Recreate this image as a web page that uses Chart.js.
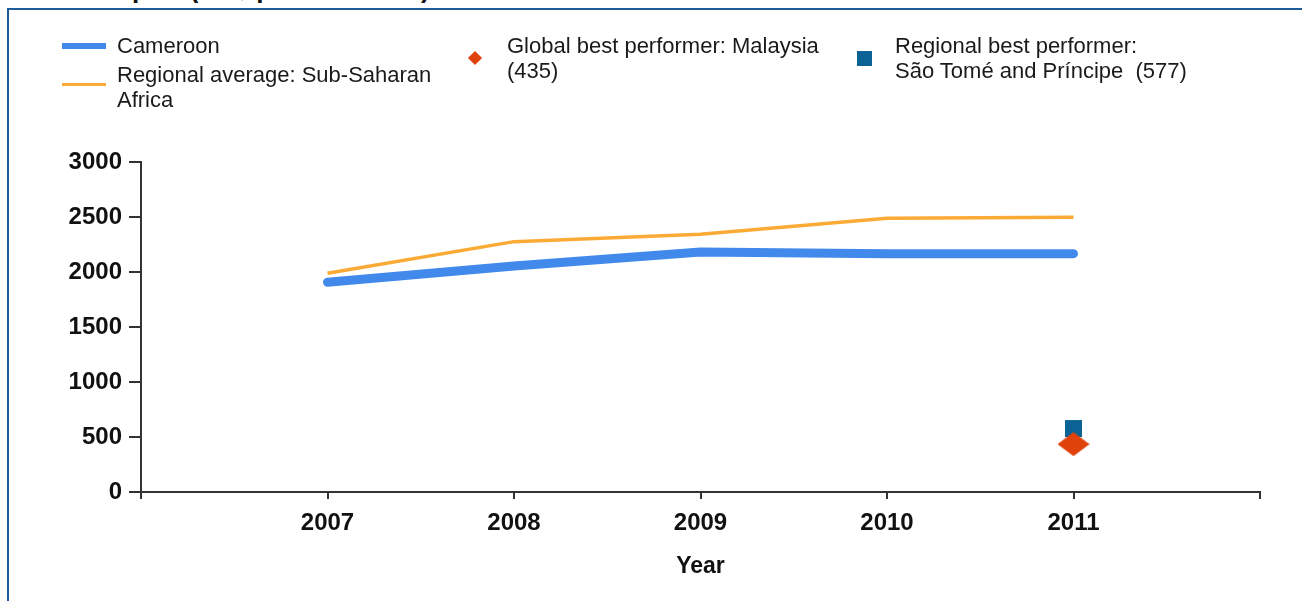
<!DOCTYPE html>
<html>
<head>
<meta charset="utf-8">
<script src="https://cdn.jsdelivr.net/npm/chart.js@4.4.1/dist/chart.umd.min.js"></script>
<style>
    html, body { margin: 0; padding: 0; background: #ffffff; overflow: hidden; }
    body { width: 1302px; height: 601px; position: relative; font-family: "Liberation Sans", Arial, sans-serif; }
    .title { position: absolute; left: 5px; top: -26px; font-weight: bold; font-size: 26px; color: #111; white-space: nowrap; }
    .frame { position: absolute; left: 7px; top: 8px; width: 1400px; height: 700px; border-left: 2px solid #1d5c9c; border-top: 2px solid #1d5c9c; }
    canvas { position: absolute; left: 0; top: 0; }
    .legend { position: absolute; font-size: 22px; line-height: 25px; color: #1a1a1a; }
    .swatch { position: absolute; }
</style>
</head>
<body>
<div class="title">Cost to import (US$ per container)</div>
<div class="frame"></div>
<canvas id="chart" width="1302" height="601"></canvas>

<!-- legend -->
<div class="swatch" style="left:62px; top:43px; width:44px; height:6px; background:#4189ea;"></div>
<div class="legend" style="left:117px; top:33px;">Cameroon</div>
<div class="swatch" style="left:62px; top:83px; width:44px; height:3px; background:#fbab35;"></div>
<div class="legend" style="left:117px; top:62px;">Regional average: Sub-Saharan<br>Africa</div>
<div class="swatch" style="left:470px; top:53px; width:10px; height:10px; background:#e0420c; transform:rotate(45deg);"></div>
<div class="legend" style="left:507px; top:33px;">Global best performer: Malaysia<br>(435)</div>
<div class="swatch" style="left:857px; top:51px; width:15px; height:15px; background:#0a6394;"></div>
<div class="legend" style="left:895px; top:33px;">Regional best performer:<br>São Tomé and Príncipe&nbsp; (577)</div>

<script>
    const years = [2007, 2008, 2009, 2010, 2011];
    const cameroon = [1907, 2055, 2182, 2167, 2167];
    const regionalAverage = [1988, 2276, 2343, 2488, 2497];
    const globalBestYear = 2011;
    const globalBest = 435;        // Malaysia
    const regionalBestYear = 2011;
    const regionalBest = 577;      // São Tomé and Príncipe
    const yTicks = [0, 500, 1000, 1500, 2000, 2500, 3000];

    const points = (xs, ys) => xs.map((x, i) => ({ x: x, y: ys[i] }));

    // flattened diamond marker
    function diamond(w, h, color) {
        const c = document.createElement('canvas');
        c.width = w;
        c.height = h;
        const ctx = c.getContext('2d');
        ctx.fillStyle = color;
        ctx.beginPath();
        ctx.moveTo(w / 2, 0);
        ctx.lineTo(w, h / 2);
        ctx.lineTo(w / 2, h);
        ctx.lineTo(0, h / 2);
        ctx.closePath();
        ctx.fill();
        return c;
    }

    const axisColor = '#333333';
    const tickFont = { family: '"Liberation Sans", Arial, sans-serif', size: 24, weight: 'bold' };

    new Chart(document.getElementById('chart').getContext('2d'), {
        type: 'line',
        data: {
            datasets: [
                {
                    label: 'Global best performer: Malaysia',
                    type: 'scatter',
                    data: [{ x: globalBestYear, y: globalBest }],
                    pointStyle: diamond(32, 24, '#e0420c'),
                    order: 0
                },
                {
                    label: 'Regional best performer: São Tomé and Príncipe',
                    type: 'scatter',
                    data: [{ x: regionalBestYear, y: regionalBest }],
                    pointStyle: 'rect',
                    pointRadius: 12,
                    backgroundColor: '#0a6394',
                    borderWidth: 0,
                    order: 1
                },
                {
                    label: 'Regional average: Sub-Saharan Africa',
                    data: points(years, regionalAverage),
                    borderColor: '#fbab35',
                    borderWidth: 3.5,
                    pointRadius: 0,
                    tension: 0,
                    order: 2
                },
                {
                    label: 'Cameroon',
                    data: points(years, cameroon),
                    borderColor: '#4189ea',
                    borderWidth: 9,
                    borderCapStyle: 'round',
                    borderJoinStyle: 'round',
                    pointRadius: 0,
                    tension: 0,
                    order: 3
                }
            ]
        },
        options: {
            responsive: false,
            animation: false,
            devicePixelRatio: 1,
            layout: { padding: { left: 0, top: 162, right: 42, bottom: 0 } },
            plugins: { legend: { display: false }, tooltip: { enabled: false } },
            scales: {
                x: {
                    type: 'linear',
                    min: 2006,
                    max: 2012,
                    afterFit: s => { s.height = 109; },
                    ticks: {
                        stepSize: 1,
                        color: '#111',
                        font: tickFont,
                        padding: 10,
                        maxRotation: 0,
                        callback: v => (v === 2006 || v === 2012) ? '' : String(v)
                    },
                    grid: { drawOnChartArea: false, color: axisColor, lineWidth: 2, tickLength: 7 },
                    border: { color: axisColor, width: 2 },
                    title: { display: true, text: 'Year', color: '#111', font: { ...tickFont, size: 23 }, padding: { top: 4, bottom: 21 } }
                },
                y: {
                    min: 0,
                    max: 3000,
                    afterFit: s => { s.width = 141; },
                    afterBuildTicks: s => { s.ticks = yTicks.map(v => ({ value: v })); },
                    ticks: {
                        color: '#111',
                        font: tickFont,
                        padding: 7,
                        callback: v => String(v)
                    },
                    grid: { drawOnChartArea: false, color: axisColor, lineWidth: 2, tickLength: 12 },
                    border: { color: axisColor, width: 2 }
                }
            }
        }
    });
</script>
</body>
</html>
